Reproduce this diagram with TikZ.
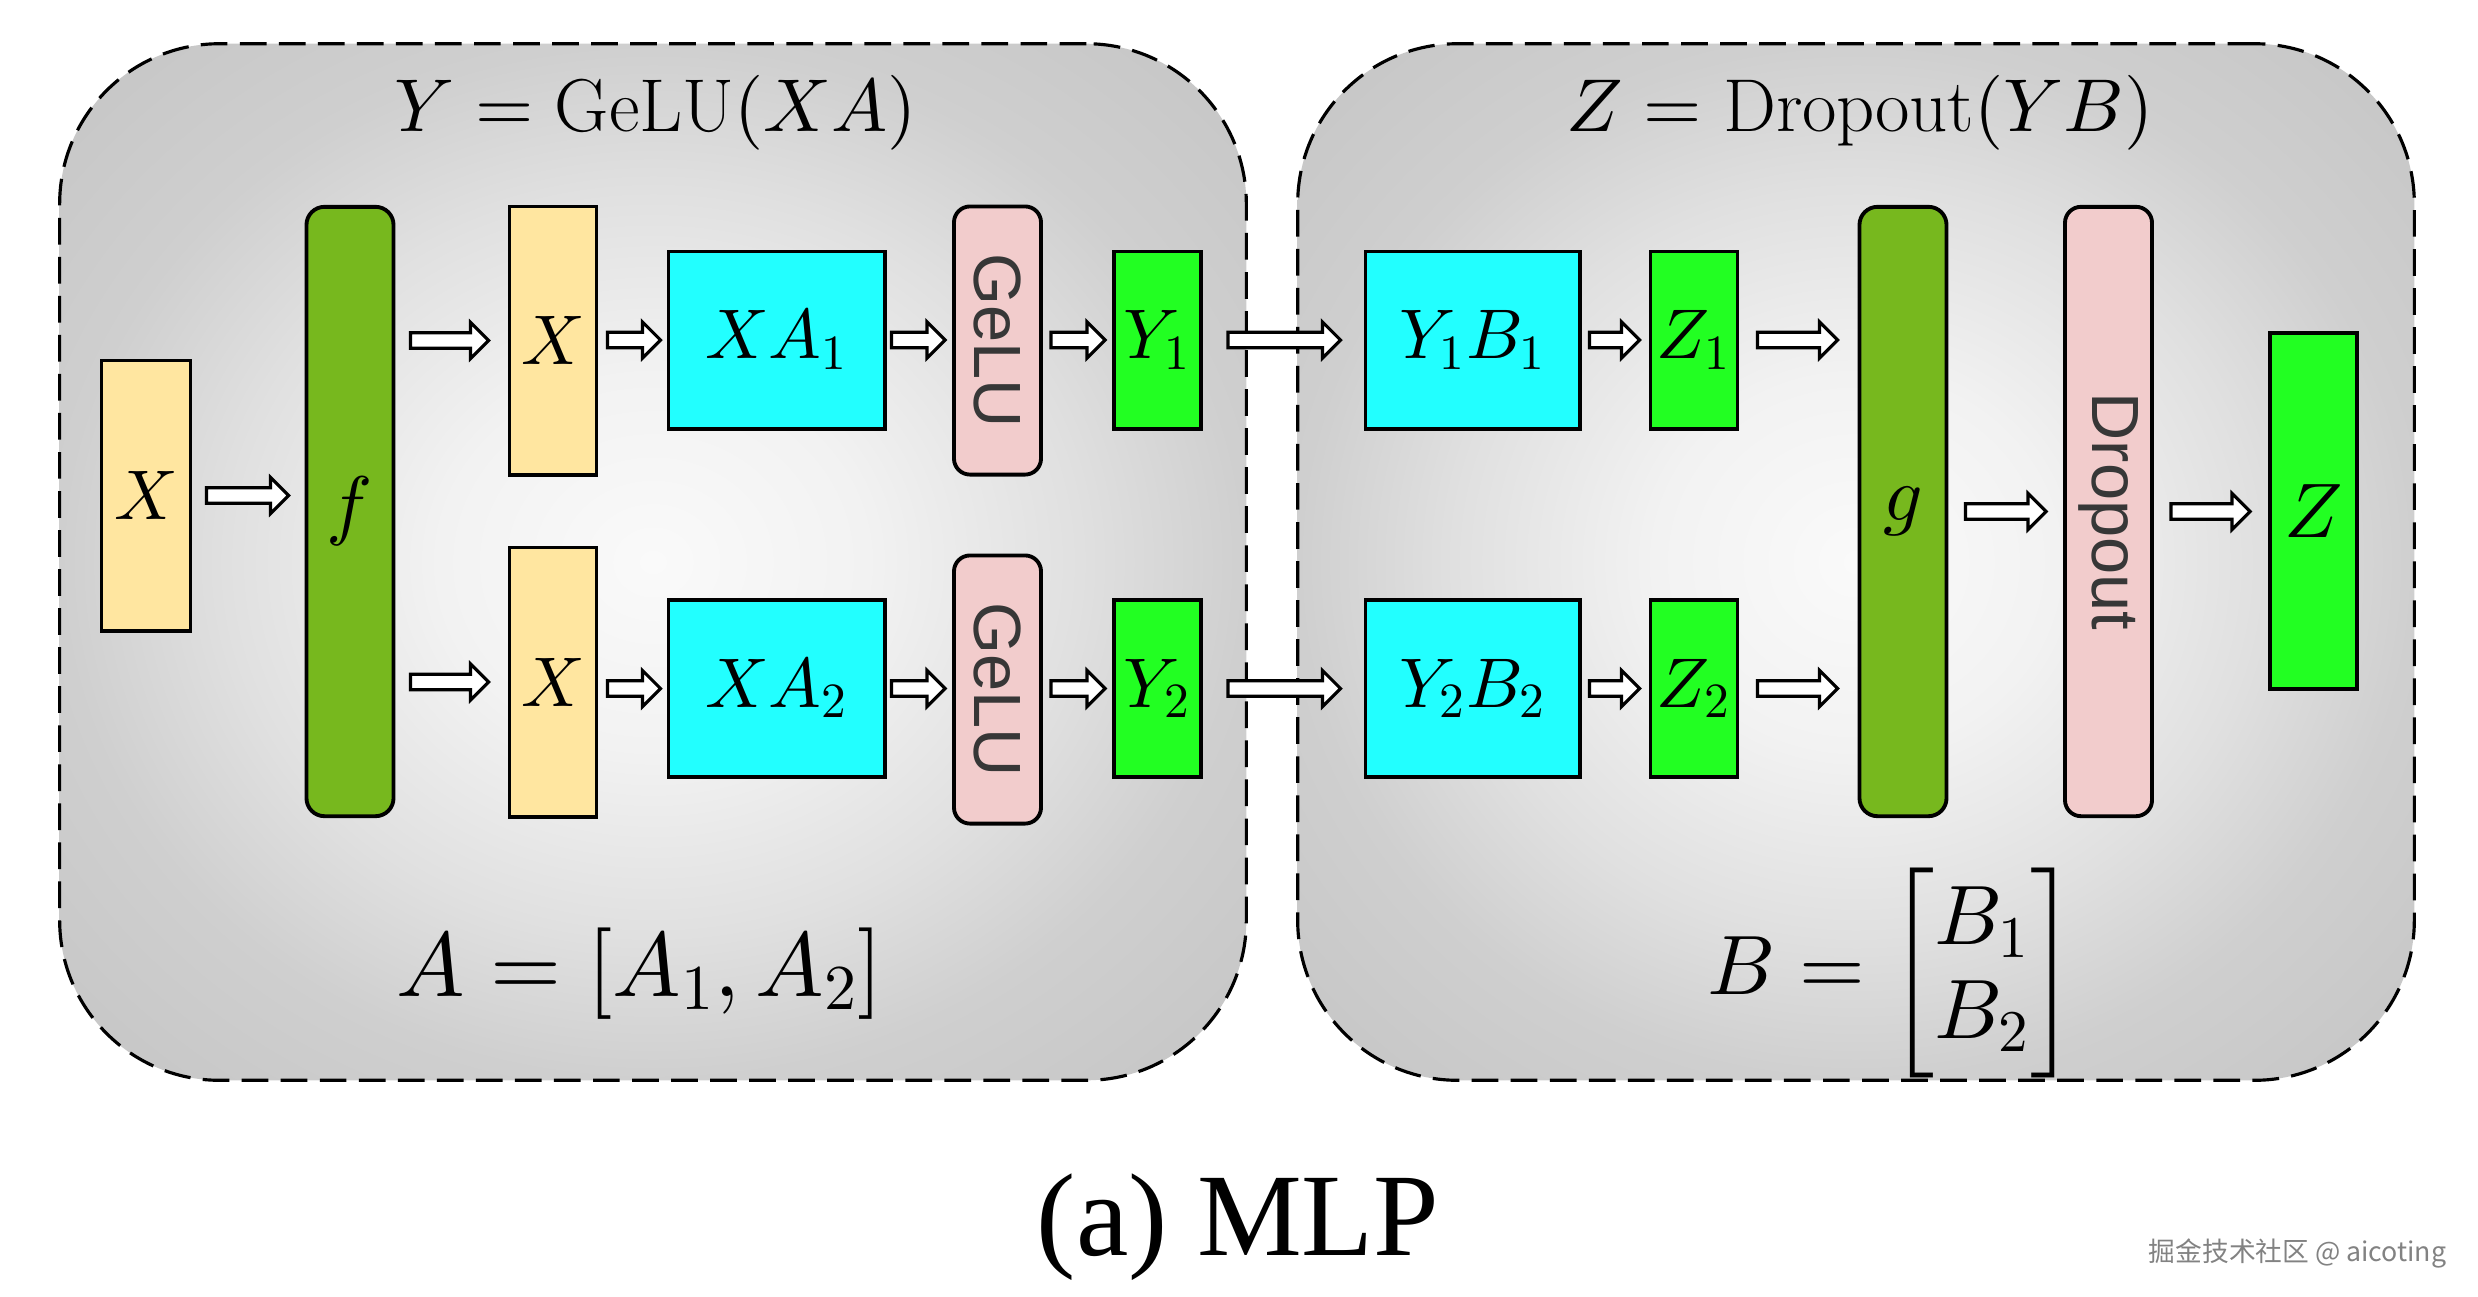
\RequirePackage{fix-cm}
\documentclass[tikz,border=0pt]{standalone}
\usepackage{amsmath}
\usepackage{fontspec}
\DeclareFontShape{OML}{cmm}{m}{it}{<->cmmi10}{}
\DeclareFontShape{OT1}{cmr}{m}{n}{<->cmr10}{}
\newfontfamily\sansf{Liberation Sans}
\newfontfamily\capf{Liberation Serif}
\newfontfamily\cjk{Noto Sans CJK SC}
\usetikzlibrary{calc}
\definecolor{cyel}{RGB}{255,230,160}
\definecolor{colive}{RGB}{119,184,30}
\definecolor{ccyan}{RGB}{34,255,255}
\definecolor{cgreen}{RGB}{34,255,34}
\definecolor{cpink}{RGB}{242,204,204}
\definecolor{ctxt}{RGB}{55,55,55}
\definecolor{cwm}{RGB}{130,130,130}
\definecolor{pg0}{RGB}{250,250,250}
\definecolor{pg1}{RGB}{242,242,242}
\definecolor{pg2}{RGB}{224,224,224}
\definecolor{pg3}{RGB}{207,207,207}
\definecolor{pg4}{RGB}{196,196,196}
\pgfdeclareradialshading{panelshade}{\pgfpoint{0bp}{0bp}}{color(0bp)=(pg0); color(9bp)=(pg1); color(18bp)=(pg2); color(25bp)=(pg3); color(36bp)=(pg4); color(50bp)=(pg4)}
\newcommand{\hollowarrow}[2]{%
  \path #2 coordinate (haE);
  \path #1 coordinate (haS0);
  \path (haS0 |- haE) coordinate (haS);
  \draw[harrowline] ($(haS)+(0,7.8)$) -- ($(haE)+(-18,7.8)$) -- ($(haE)+(-18,18)$) -- (haE)
     -- ($(haE)+(-18,-18)$) -- ($(haE)+(-18,-7.8)$) -- ($(haS)+(0,-7.8)$) -- cycle;}
\newcommand{\vtext}[1]{\rotatebox[origin=c]{-90}{\sansf\color{ctxt}#1}}
\tikzset{
  harrowline/.style={draw=black, fill=white, line width=0.9pt, line join=miter},
  blk/.style={draw, line width=1.1pt, inner sep=0pt, font=\fontsize{20}{24}\selectfont},
  yel/.style={blk, fill=cyel},
  oli/.style={blk, fill=colive, rounded corners=0.18cm, minimum width=0.87cm, minimum height=6.09cm, font=\fontsize{22}{26}\selectfont},
  cya/.style={blk, fill=ccyan, minimum height=1.77cm},
  grn/.style={blk, fill=cgreen, minimum width=0.87cm},
  pnk/.style={blk, fill=cpink, rounded corners=0.16cm, minimum width=0.87cm, font=\fontsize{19}{23}\selectfont},
  panel/.style={draw, dash pattern=on 7.6pt off 3.5pt, line width=0.9pt, rounded corners=1.6cm,
     shade, shading=panelshade, inner sep=0pt},
}
\begin{document}
\begin{tikzpicture}[x=0.01cm, y=-0.01cm]
\useasboundingbox (0,0) rectangle (2478,1296);
% panels
\node[panel, minimum width=11.86cm, minimum height=10.36cm] (panL) at (653,562) {};
\node[panel, minimum width=11.16cm, minimum height=10.36cm] (panR) at (1856,562) {};
% titles and formulas
\node[anchor=base, font=\fontsize{21.3}{25}\selectfont] (titL) at (656,131) {$Y = \mathrm{GeLU}(XA)$};
\node[anchor=base, font=\fontsize{21.3}{25}\selectfont] (titR) at (1860,131) {$Z = \mathrm{Dropout}(YB)$};
\node[anchor=base, font=\fontsize{26}{30}\selectfont] (frmA) at (640,996) {$A = [A_1, A_2]$};
\node[anchor=base, font=\fontsize{24}{28}\selectfont] (frmB) at (1892,994) {\renewcommand{\arraystretch}{0.95}$B = \begin{bmatrix} B_1\\ B_2\end{bmatrix}$};
% left panel blocks
\node[yel, minimum width=0.89cm, minimum height=2.70cm] (Xin) at (146,495.5) {$X$};
\node[oli] (f) at (350,511.5) {$f$};
\node[yel, minimum width=0.87cm, minimum height=2.68cm] (Xa) at (553,340.5) {$X$};
\node[yel, minimum width=0.87cm, minimum height=2.69cm] (Xb) at (553,682) {$X$};
\node[cya, minimum width=2.16cm] (XA1) at (776.5,340) {$XA_1$};
\node[cya, minimum width=2.16cm] (XA2) at (776.5,688.5) {$XA_2$};
\node[pnk, minimum height=2.68cm] (G1) at (997.5,340.5) {\vtext{GeLU}};
\node[pnk, minimum height=2.68cm] (G2) at (997.5,689.5) {\vtext{GeLU}};
\node[grn, minimum height=1.77cm] (Y1) at (1157.5,340) {$Y_1$};
\node[grn, minimum height=1.77cm] (Y2) at (1157.5,688.5) {$Y_2$};
% right panel blocks
\node[cya, minimum width=2.14cm] (YB1) at (1472.5,340) {$Y_1B_1$};
\node[cya, minimum width=2.14cm] (YB2) at (1472.5,688.5) {$Y_2B_2$};
\node[grn, minimum height=1.77cm] (Z1) at (1694,340) {$Z_1$};
\node[grn, minimum height=1.77cm] (Z2) at (1694,688.5) {$Z_2$};
\node[oli] (g) at (1903,511.5) {$g$};
\node[pnk, minimum height=6.09cm] (Drop) at (2108.5,511.5) {\vtext{Dropout}};
\node[grn, minimum height=3.55cm, font=\fontsize{22}{26}\selectfont] (Zout) at (2313.5,511) {$Z$};
% arrows
\hollowarrow{($(Xin.east)+(14,0)$)}{($(f.west |- Xin.center)+(-16,0)$)}
\hollowarrow{($(f.east)+(15,0)$)}{($(Xa.west)+(-19,0)$)}
\hollowarrow{($(f.east)+(15,0)$)}{($(Xb.west)+(-19,0)$)}
\hollowarrow{($(Xa.east)+(9,0)$)}{($(XA1.west)+(-6,0)$)}
\hollowarrow{($(Xb.east)+(9,0)$)}{($(XA2.west)+(-6,0)$)}
\hollowarrow{($(XA1.east)+(5,0)$)}{($(G1.west |- XA1.center)+(-7,0)$)}
\hollowarrow{($(XA2.east)+(5,0)$)}{($(G2.west |- XA2.center)+(-7,0)$)}
\hollowarrow{($(G1.east)+(8,0)$)}{($(Y1.west)+(-7,0)$)}
\hollowarrow{($(G2.east)+(8,0)$)}{($(Y2.west)+(-7,0)$)}
\hollowarrow{($(Y1.east)+(25,0)$)}{($(YB1.west)+(-23,0)$)}
\hollowarrow{($(Y2.east)+(25,0)$)}{($(YB2.west)+(-23,0)$)}
\hollowarrow{($(YB1.east)+(8,0)$)}{($(Z1.west)+(-9,0)$)}
\hollowarrow{($(YB2.east)+(8,0)$)}{($(Z2.west)+(-9,0)$)}
\hollowarrow{($(Z1.east)+(18,0)$)}{($(g.west |- Z1.center)+(-20,0)$)}
\hollowarrow{($(Z2.east)+(18,0)$)}{($(g.west |- Z2.center)+(-20,0)$)}
\hollowarrow{($(g.east)+(17,0)$)}{($(Drop.west)+(-17,0)$)}
\hollowarrow{($(Drop.east)+(17,0)$)}{($(Zout.west |- Drop.center)+(-18,0)$)}
% caption and watermark
\node[anchor=base, font=\capf\fontsize{33.5}{38}\selectfont] (cap) at (1238,1255) {(a) MLP};
\node[anchor=base east, text=cwm, font=\cjk\fontsize{7.6}{9}\selectfont, inner sep=0pt] (wm) at (2447,1261) {掘金技术社区 @ aicoting};
\end{tikzpicture}
\end{document}
